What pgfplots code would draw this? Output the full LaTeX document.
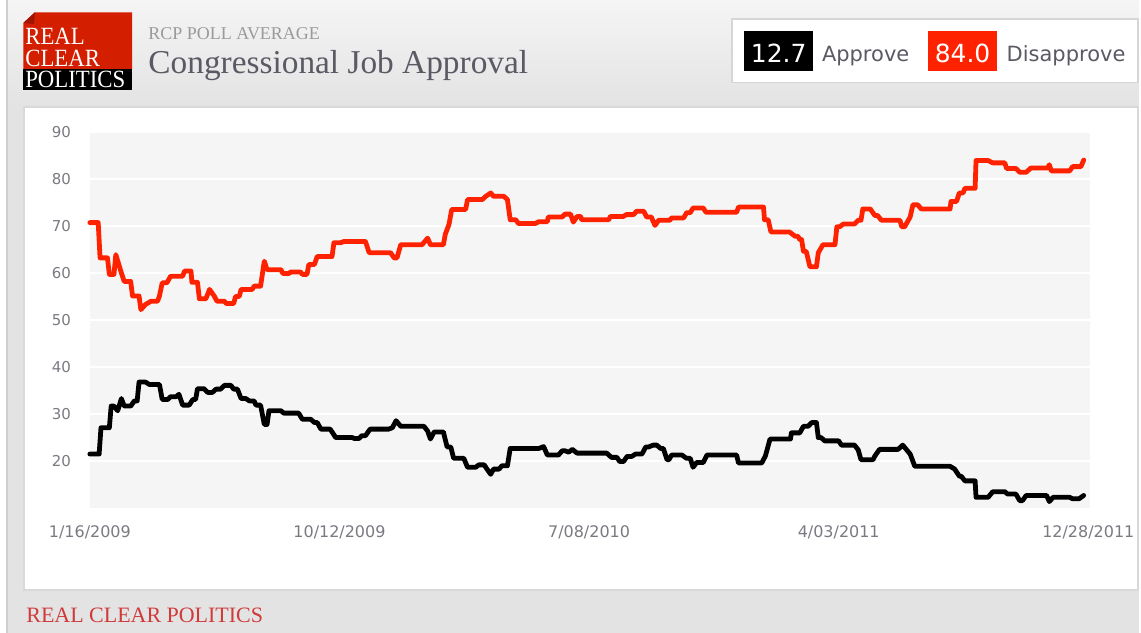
\documentclass[border=0pt]{standalone}
\usepackage{fontspec}
\setmainfont{Liberation Serif}
\newfontfamily\verd{DejaVu Sans}
\usepackage{pgfplots}
\usepackage{pgfplotstable}
\pgfplotsset{compat=1.18}

\definecolor{rcpred}{HTML}{FF2200}
\definecolor{logored}{HTML}{D41E00}
\definecolor{logofold}{HTML}{A01500}
\definecolor{footred}{HTML}{D03A3A}
\definecolor{plotbg}{HTML}{F5F5F5}
\definecolor{framegray}{HTML}{E3E3E3}
\definecolor{tickgray}{HTML}{7A7A82}
\definecolor{titlegray}{HTML}{5A5A64}
\definecolor{subgray}{HTML}{9A9A9A}

% days since 1/16/2009, RCP average
\pgfplotstableread{
d val
0 70.7
9 70.7
11 63.2
19 63.2
21 59.7
26 59.7
28 63.9
34 60.0
37 58.2
44 58.2
46 55.1
53 55.1
55 52.2
60 53.3
66 54.0
73 54.0
75 55.1
78 57.9
83 57.9
87 59.3
100 59.3
102 60.4
109 60.4
110 58.0
116 58.0
118 54.5
125 54.5
129 56.5
134 55.1
137 54.0
145 54.0
147 53.5
155 53.5
157 55.0
161 55.0
163 56.5
175 56.5
177 57.2
184 57.2
188 62.5
191 60.7
206 60.7
208 59.9
215 59.9
216 60.2
227 60.2
229 59.7
234 59.7
236 61.8
242 61.8
245 63.5
261 63.5
263 66.4
270 66.4
274 66.7
297 66.7
301 64.3
324 64.3
328 63.2
331 63.2
335 66.0
358 66.0
364 67.4
367 66.0
381 66.0
383 68.2
387 70.3
390 73.5
405 73.5
407 75.6
423 75.6
426 76.2
432 77.0
435 76.3
446 76.3
450 75.6
453 71.3
459 71.3
462 70.5
480 70.5
484 70.9
493 70.9
494 71.9
509 71.9
512 72.5
518 72.5
521 70.8
525 72.0
529 72.0
530 71.3
559 71.3
561 72.0
575 72.0
578 72.4
586 72.4
589 73.1
597 73.1
600 71.9
605 71.9
609 70.1
613 71.2
625 71.2
627 71.7
640 71.7
643 72.8
647 72.8
650 73.8
661 73.8
664 72.9
697 72.9
699 74.0
726 74.0
727 71.3
731 71.3
734 68.7
754 68.7
760 67.8
763 67.8
765 67.1
767 67.1
769 64.6
772 64.6
776 61.3
783 61.3
785 64.3
790 66.0
803 66.0
805 69.8
808 69.8
812 70.4
824 70.4
828 71.2
831 71.2
833 73.6
841 73.6
846 72.2
849 72.2
853 71.2
873 71.2
875 69.8
878 69.8
884 71.9
887 74.5
892 74.5
896 73.6
927 73.6
928 75.2
934 75.2
937 77.0
941 77.0
943 78.0
954 78.0
955 83.9
968 83.9
973 83.4
986 83.4
988 82.2
998 82.2
1002 81.4
1009 81.4
1014 82.3
1032 82.3
1034 83.0
1036 81.7
1056 81.7
1059 82.6
1068 82.6
1071 84.0
}\disapprove

\pgfplotstableread{
d val
0 21.5
10 21.5
12 27.1
21 27.1
23 31.7
26 31.7
30 30.7
34 33.3
37 31.7
44 31.7
48 32.8
51 32.8
53 36.8
60 36.8
64 36.3
75 36.3
78 33.1
84 33.1
87 33.7
93 33.7
96 34.2
100 31.9
107 31.9
111 33.1
114 33.1
116 35.4
123 35.4
127 34.6
132 34.6
136 35.3
141 35.3
145 36.1
152 36.1
155 35.3
159 35.3
163 33.3
168 33.3
172 32.8
177 32.8
179 31.9
184 31.9
188 27.8
191 27.8
193 30.7
206 30.7
209 30.2
225 30.2
229 28.9
238 28.9
242 28.2
245 28.2
249 26.8
259 26.8
265 25.0
283 25.0
285 24.8
290 24.8
293 25.4
297 25.4
302 26.8
322 26.8
326 27.1
330 28.6
335 27.4
360 27.4
364 26.4
367 24.7
371 26.2
381 26.2
385 23.0
389 23.0
392 20.6
403 20.6
407 18.7
416 18.7
419 19.2
425 19.2
428 18.3
432 17.2
435 18.3
441 18.3
444 19.0
450 19.0
453 22.7
484 22.7
489 23.1
493 21.3
505 21.3
509 22.2
512 22.2
516 21.9
520 22.5
525 21.7
557 21.7
562 20.8
568 20.8
571 19.9
575 19.9
579 21.0
584 21.0
588 21.5
595 21.5
599 23.0
602 23.0
607 23.4
611 23.4
615 22.7
618 22.7
622 20.3
624 20.3
627 21.3
638 21.3
643 20.6
647 20.6
650 18.7
654 19.7
661 19.7
665 21.3
697 21.3
699 19.6
724 19.6
728 21.1
733 24.7
755 24.7
756 26.0
765 26.0
769 27.4
774 27.4
778 28.2
783 28.2
785 25.0
788 25.0
792 24.3
807 24.3
810 23.4
824 23.4
828 22.4
831 20.3
844 20.3
846 21.1
851 22.5
871 22.5
876 23.4
884 21.5
889 18.9
927 18.9
932 18.3
937 16.8
939 16.8
943 15.8
954 15.8
955 12.3
968 12.3
973 13.5
986 13.5
989 13.0
998 13.0
1002 11.6
1005 11.6
1009 12.7
1031 12.7
1034 11.4
1038 12.3
1056 12.3
1059 12.0
1066 12.0
1071 12.7
}\approve

\begin{document}
\begin{tikzpicture}
% page furniture, in reference pixels
\begin{scope}[x=0.5pt,y=-0.5pt]
\useasboundingbox (0,0) rectangle (1141,634);
\fill[white] (0,0) rectangle (1141,634);
\fill[framegray] (7,0) rectangle (1141,634);
\shade[top color=white!96!black, bottom color=framegray] (7,0) rectangle (1141,107);
\draw[black!19,line width=1pt] (7,0) -- (7,634);
\fill[white] (24,107) rectangle (1140,591);
\draw[black!15,line width=0.8pt] (24,107) rectangle (1140,591);
% logo
\fill[logored] (35,12.3) -- (132.3,12.3) -- (132.3,69) -- (23.3,69) -- (23.3,23) -- cycle;
\fill[logofold] (23.3,23) -- (35,12.3) -- (34,24) -- cycle;
\fill[black] (23.3,69) rectangle (132.3,90);
\node[inner sep=0,anchor=base west,align=left,text=white,xscale=0.92,
  font=\fontsize{12.4}{10.8}\selectfont] at (25,88) {REAL\\CLEAR\\POLITICS};
\node[inner sep=0,anchor=base west,text=subgray,font=\fontsize{9}{10}\selectfont] at (148.3,39.3) {RCP POLL AVERAGE};
\node[inner sep=0,anchor=base west,text=titlegray,font=\fontsize{16.7}{18}\selectfont] at (148.3,73.3) {Congressional Job Approval};
% value box
\fill[white] (733,19.3) rectangle (1140,82.7);
\draw[black!16,line width=0.8pt] (733,19.3) rectangle (1140,82.7);
\fill[black] (745.7,31) rectangle (814.3,71);
\fill[rcpred] (930,31) rectangle (998.3,71);
\node[inner sep=0,anchor=base,text=white,font=\verd\fontsize{12.5}{13}\selectfont] at (780,62.5) {12.7};
\node[inner sep=0,anchor=base,text=white,font=\verd\fontsize{12.5}{13}\selectfont] at (964.2,62.5) {84.0};
\node[inner sep=0,anchor=base west,text=titlegray,font=\verd\fontsize{10.5}{12}\selectfont] at (823,62) {Approve};
\node[inner sep=0,anchor=base west,text=titlegray,font=\verd\fontsize{10.5}{12}\selectfont] at (1008,62) {Disapprove};
% footer
\node[inner sep=0,anchor=base west,text=footred,font=\fontsize{11}{12}\selectfont] at (26,623.3) {REAL CLEAR POLITICS};
\end{scope}

\begin{axis}[
  at={(45pt,-254.5pt)}, anchor=south west,
  scale only axis,
  width=501pt, height=188.5pt,
  xmin=0, xmax=1078,
  ymin=10, ymax=90,
  axis background/.style={fill=plotbg},
  axis line style={draw=none},
  major tick length=0pt,
  ytick={20,30,...,90},
  xtick={0,269,538,807,1076},
  xticklabels={1/16/2009,10/12/2009,7/08/2010,4/03/2011,12/28/2011},
  ymajorgrids=true,
  grid style={white,line width=1pt},
  /pgf/number format/assume math mode=true,
  yticklabel style={font=\verd\fontsize{7.5}{9}\selectfont,text=tickgray,xshift=-6pt},
  xticklabel style={font=\verd\fontsize{8}{10}\selectfont,text=tickgray,yshift=-5pt},
  clip=false,
]
\addplot[sharp plot,rcpred,line width=2.4pt,line join=round,line cap=round] table[x=d,y=val] {\disapprove};
\addplot[sharp plot,black,line width=2.4pt,line join=round,line cap=round] table[x=d,y=val] {\approve};
\end{axis}
\end{tikzpicture}
\end{document}
